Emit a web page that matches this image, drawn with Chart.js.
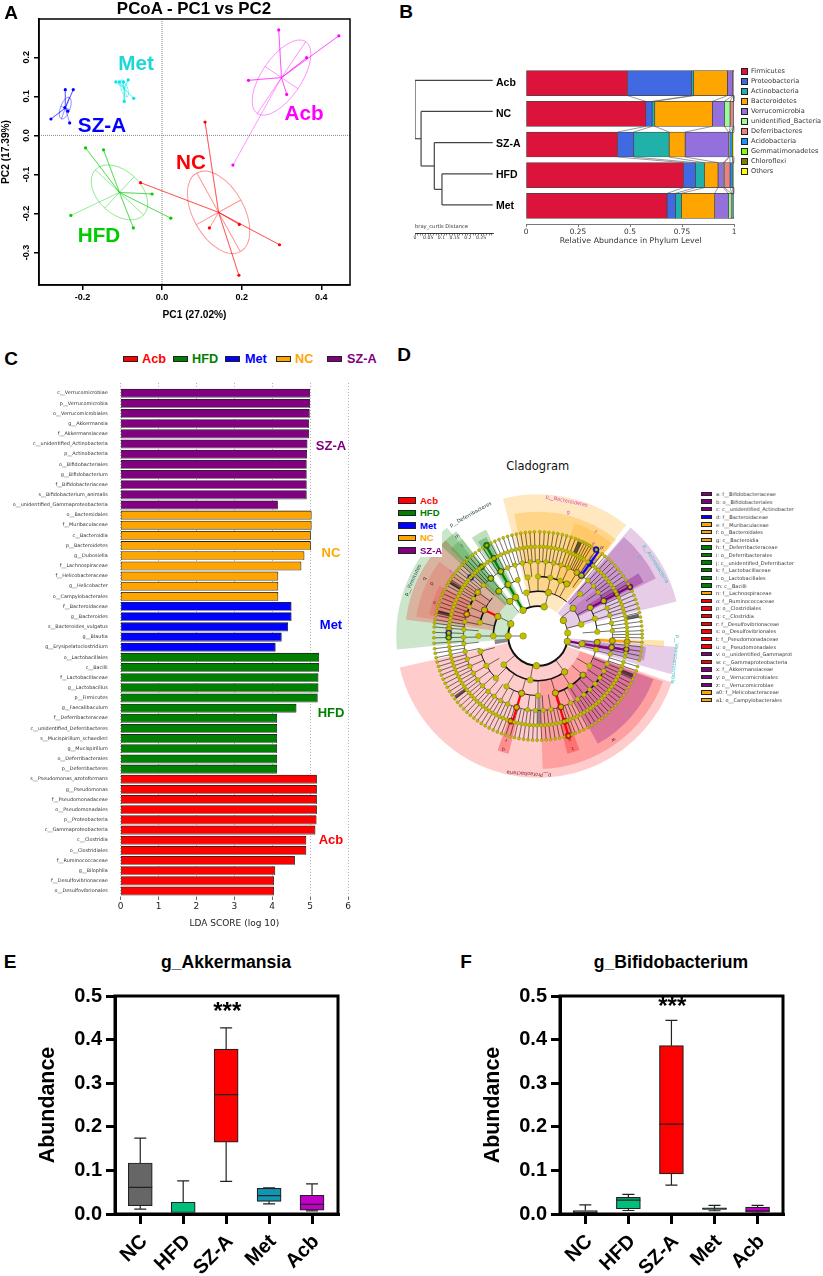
<!DOCTYPE html>
<html lang="en">
<head>
<meta charset="UTF-8">
<title>Gut microbiota figure</title>
<script src="https://cdn.jsdelivr.net/npm/chart.js"></script>
<style>
    html, body { margin: 0; padding: 0; background: #fff; }
    #page { position: relative; width: 823px; height: 1276px; overflow: hidden; }
    canvas { position: absolute; }
    .tag { position: absolute; white-space: nowrap; transform: translate(-50%, -50%); font-family: "Liberation Sans", Arial, sans-serif; line-height: 1; z-index: 5; }
    .left { transform: translate(0, -50%); }
    .swatch { position: absolute; border: 1px solid #222; box-sizing: border-box; z-index: 6; }
    .dv { font-family: "DejaVu Sans", sans-serif; }
</style>
</head>
<body>
<div id="page"></div>
<script>
    // Panel A: PCoA points
    const acbPts = [[.293,.27],[.444,.255],[.363,.199],[.217,.141],[.313,.105],[.178,-.076]];
    const metPts = [[-.116,.137],[-.107,.137],[-.097,.137],[-.085,.142],[-.071,.095],[-.095,.087]];
    const szaPts = [[-.243,.117],[-.223,.117],[-.279,.042],[-.244,.071],[-.237,.062],[-.232,.032]];
    const hfdPts = [[-.192,-.032],[-.147,-.037],[-.025,-.15],[.022,-.212],[-.072,-.237],[-.229,-.205]];
    const ncPts = [[.108,.034],[-.054,-.121],[.194,-.228],[.295,-.28],[.193,-.358],[.119,-.237]];
    // centre x, centre y, semi axes (x units), tilt in degrees
    const acbEllipse = [.30,.148,.109,.05,-56];
    const metEllipse = [-.095,.12,.0226,.0084,70];
    const szaEllipse = [-.243,.07,.029,.012,-70];
    const hfdEllipse = [-.107,-.146,.083,.054,43];
    const ncEllipse = [.142,-.197,.113,.064,61];
    const pcoaTicksX = [-.2,0,.2,.4];
    const pcoaTicksY = [-.3,-.2,-.1,0,.1,.2];

    // Panel B: phylum abundance
    const treeGroups = ['Acb','NC','SZ-A','HFD','Met'];
    const firmicutes = [.488,.576,.44,.757,.678];
    const proteobacteria = [.307,.03,.078,.057,.04];
    const actinobacteria = [.011,.013,.17,.044,.029];
    const bacteroidetes = [.162,.277,.077,.065,.16];
    const verrucomicrobia = [.026,.058,.209,.026,.066];
    const unidentifiedBact = [.002,.027,.004,.005,.014];
    const deferribacteres = [.002,.016,.002,.027,.002];
    const acidobacteria = [.001,.001,.012,.014,.007];
    const gemmatimonadetes = [0,0,0,0,0];
    const chloroflexi = [0,0,.002,.002,.002];
    const others = [.001,.002,.006,.003,.002];
    const phylumNames = ['Firmicutes','Proteobacteria','Actinobacteria','Bacteroidetes','Verrucomicrobia','unidentified_Bacteria','Deferribacteres','Acidobacteria','Gemmatimonadetes','Chloroflexi','Others'];
    const phylumColors = ['#DC143C','#4169E1','#20B2AA','#FFA500','#9370DB','#98FB98','#F08080','#1E90FF','#7FFF00','#808000','#FFFF00'];
    const phylumValues = [firmicutes,proteobacteria,actinobacteria,bacteroidetes,verrucomicrobia,unidentifiedBact,deferribacteres,acidobacteria,gemmatimonadetes,chloroflexi,others];
    // dendrogram branches: distance, row, distance, row
    const treeBranches = [
        [.294,0,0,0],[0,0,0,1.875],[0,1.875,.023,1.875],
        [.294,1,.023,1],[.023,1,.023,2.75],[.023,2.75,.073,2.75],
        [.294,2,.073,2],[.073,2,.073,3.5],[.073,3.5,.102,3.5],
        [.294,3,.102,3],[.102,3,.102,4],[.102,4,.294,4]
    ];
    const distTicks = [0,.01,.02,.03,.04,.05,.06,.07,.08,.09,.1,.11,.12,.13,.14,.15,.16,.17,.18,.19,.2,.21,.22,.23,.24,.25,.26,.27,.28,.29];
    const distLabels = [0,.05,.1,.15,.2,.25];

    // Panel C: LDA scores
    const ldaNames = ['c__Verrucomicrobiae','p__Verrucomicrobia','o__Verrucomicrobiales','g__Akkermansia','f__Akkermansiaceae','c__unidentified_Actinobacteria','p__Actinobacteria','o__Bifidobacteriales','g__Bifidobacterium','f__Bifidobacteriaceae','s__Bifidobacterium_animalis','o__unidentified_Gammaproteobacteria',
        'o__Bacteroidales','f__Muribaculaceae','c__Bacteroidia','p__Bacteroidetes','g__Dubosiella','f__Lachnospiraceae','f__Helicobacteraceae','g__Helicobacter','o__Campylobacterales',
        'f__Bacteroidaceae','g__Bacteroides','s__Bacteroides_vulgatus','g__Blautia','g__Erysipelatoclostridium',
        'o__Lactobacillales','c__Bacilli','f__Lactobacillaceae','g__Lactobacillus','p__Firmicutes','g__Faecalibaculum','f__Deferribacteraceae','c__unidentified_Deferribacteres','s__Mucispirillum_schaedleri','g__Mucispirillum','o__Deferribacterales','p__Deferribacteres',
        's__Pseudomonas_azotoformans','g__Pseudomonas','f__Pseudomonadaceae','o__Pseudomonadales','p__Proteobacteria','c__Gammaproteobacteria','c__Clostridia','o__Clostridiales','f__Ruminococcaceae','g__Bilophila','f__Desulfovibrionaceae','o__Desulfovibrionales'];
    const ldaScores = [4.99,4.99,4.98,4.96,4.96,4.92,4.91,4.90,4.90,4.90,4.90,4.14,
        5.03,5.03,5.01,5.01,4.84,4.76,4.15,4.15,4.15,
        4.50,4.50,4.41,4.24,4.08,
        5.23,5.23,5.21,5.21,5.19,4.63,4.12,4.12,4.12,4.12,4.12,4.12,
        5.17,5.17,5.17,5.17,5.16,5.13,4.89,4.89,4.59,4.07,4.04,4.04];
    const ldaGroupSizes = [['#800080',12],['#FFA500',9],['#0000FF',5],['#008000',12],['#FF0000',12]];
    const ldaTicks = [0,1,2,3,4,5,6];

    // Panel D: cladogram, angles in degrees clockwise from the top
    const RED = '#FF0000', GREEN = '#008000', BLUE = '#0000FF', ORANGE = '#FFA500', PURPLE = '#800080';
    const ringRadius = [15.3,30.7,46,61.3,76.7,92,107.3];
    const tipAngles = [1,3.5,6,8.5,11,13.5,16,18.5,21,23,25,26.5,28,29.5,31,34,38,40,42.5,45,47.5,50,52.5,55,57.5,60,62,64.5,67,69.5,72,74.5,77,79.5,82,84.5,87,89,91,93.5,96,98.5,101,103.5,107,109.5,112,114.5,117,119.5,122,124.5,127,129.5,132,134.5,137,139.5,142,144,146.5,149,151.5,154,156.5,159,161,163,165.5,168,170.5,173,175.5,178,180.5,183,185.5,188,190.5,193,195.5,198,200.5,203,205.5,208,210.5,213,215.5,218,220.5,223,225.5,228,230.5,233,235.5,238,240.5,243,245.5,248,250.5,253,255.5,258,260.5,263,266,269,272,275,277,279,281.5,284,286.5,289,291.5,294,296.5,299,301,303,305,307,309,311,313,315,317,319,321,323,325.5,328,330.5,333,335.5,338,340.5,343,345.5,348,350.5,353,355.5,358];
    const familyAngles = [342,348,354,0,6,12,18,24,31.5,35.6,42,48,54,61.9,68,74,80,86,93.7,98.8,104,112,118,124,130,136,142,148,154,162,170,176,182,188,196.7,204,210,216,222,228,234,240,246,252,258,264,269,275,281,287,293,300,306,313,320.7,330,336];
    const orderAngles = [350,0,12,22,29,45,61.5,73,86,96,103,120,131,147,163,180,196,212,225,240,255,270,283,296,319,330,340];
    const classAngles = [13.5,51.7,75,100,143.5,190,230,270,296,321,330,345];
    const phylumAngles = [12,58.4,84,100.7,183,270,294,330];
    const biomarkers = [
        [183,1,RED],[143.5,2,RED],[163,3,RED],[162.3,4,RED],[162.5,5,RED],[163.1,6,RED],[196,3,RED],[196.7,4,RED],[197.6,5,RED],[296,2,RED],[296,3,RED],[287,4,RED],
        [131,3,PURPLE],[58.4,1,PURPLE],[51.7,2,PURPLE],[61.5,3,PURPLE],[61.9,4,PURPLE],[61.6,5,PURPLE],[61.9,6,PURPLE],[100.7,1,PURPLE],[100,2,PURPLE],[96.2,3,PURPLE],[98.8,4,PURPLE],[98.7,5,PURPLE],
        [294,1,GREEN],[330,1,GREEN],[330,2,GREEN],[329.5,3,GREEN],[330,4,GREEN],[330.4,5,GREEN],[330.5,6,GREEN],[321,2,GREEN],[318.8,3,GREEN],[320.7,4,GREEN],[320.8,5,GREEN],[269.2,5,GREEN],
        [306,4,ORANGE],[274.4,5,ORANGE],[12,1,ORANGE],[13.5,2,ORANGE],[29,3,ORANGE],[31.5,4,ORANGE],[93.7,4,ORANGE],[93.7,5,ORANGE],
        [311,5,BLUE],[271.9,5,BLUE],[35.6,4,BLUE],[35.7,5,BLUE],[33.9,6,BLUE]
    ];
    // thick coloured stems: angle, inner ring, outer ring, colour
    const cladeStems = [[163,3,6,RED],[196.5,3,5,RED],[296,2,3,RED],[61.7,3,6,PURPLE],[99,4,5,PURPLE],[100,1,4,PURPLE],[330,1,6,GREEN],[35.6,4,6,BLUE],[93.7,3,5,ORANGE]];
    // black arcs: ring, from, to, width
    const cladeArcs = [[1,100,300,2],[1,330,372,1.6],[1,58,100,.8],[2,143,230,1.6],[2,270,296,1.6],[2,321,330,1],[2,345,373.5,1.4],[2,13.5,40,1],[2,51,75,.8],
        [3,131,163,1.6],[3,180,212,1],[3,225,255,1],[3,283,296,1.6],[3,296,310,1],[3,360,389,1.4],[3,61,86,1],[3,319,340,.8],[3,96,120,.8],
        [4,121,143,1.6],[4,287,306,1.6],[4,0,360,.6]];
    // shaded clades: from, to, inner radius, outer radius, colour
    const cladeWedges = [
        [109.2,257.2,31,146,'rgba(255,0,0,.2)'],[110,178,46,137,'rgba(255,0,0,.22)'],[110.5,151,62,127,'rgba(128,0,128,.28)'],
        [194,199.5,92,125,'rgba(255,0,0,.3)'],[160,166,92,125,'rgba(255,0,0,.3)'],
        [264.5,320,31,146,'rgba(0,128,0,.2)'],[277,316,46,137,'rgba(255,0,0,.22)'],[279,307,62,127,'rgba(255,0,0,.15)'],[281,297,77,114,'rgba(255,0,0,.15)'],[313,322,46,137,'rgba(0,128,0,.25)'],[315,322,62,127,'rgba(0,128,0,.2)'],
        [326,334,31,122,'rgba(0,128,0,.25)'],[327.5,332.5,46,115,'rgba(0,128,0,.3)'],
        [-14.3,38.5,31,146,'rgba(255,165,0,.25)'],[-11,39,46,128,'rgba(255,165,0,.28)'],[18,38.5,62,122,'rgba(255,165,0,.25)'],[26,38,77,107,'rgba(255,165,0,.25)'],[33,38,77,100,'rgba(0,0,255,.2)'],
        [40.5,76,31,147,'rgba(128,0,128,.2)'],[41,64,46,135,'rgba(128,0,128,.25)'],[58,63,62,122,'rgba(128,0,128,.35)'],[51,64,46,92,'rgba(128,0,128,.15)'],
        [94.5,106,31,143,'rgba(128,0,128,.2)'],[96,103,46,112,'rgba(128,0,128,.25)'],[92,95,63,130,'rgba(255,165,0,.3)']
    ];
    // dense bundles of tips that merge into dark fans: from, to, inner radius, outer radius, colour
    const cladeFans = [
        [300.5,302.5,93,106,'rgba(20,20,20,.65)'],[282.5,284.5,93,106,'rgba(20,20,20,.65)'],[77.5,79.5,93,106,'rgba(20,20,20,.65)'],[112,114,93,106,'rgba(20,20,20,.65)'],[232.5,234.5,93,106,'rgba(20,20,20,.65)'],[23,25,93,106,'rgba(20,20,20,.65)'],
        [178,180.5,62,91,'rgba(90,90,90,.6)'],[259,265,32,45,'rgba(90,90,90,.7)'],[104.5,107.5,32,45,'rgba(90,90,90,.7)']
    ];
    const cladeLabels = [
        ['p__Bacteroidetes',12,142,12,'#E040C0'],['p__Actinobacteria',58.4,142,-32+90,'#30C0C0'],['p__Verrucomicrobia',99.7,143,96,'#30C0C0'],
        ['p__Proteobacteria',183.8,142,183.8,'#802030'],['p__Firmicutes',294,141,-66,'#244'],['p__Deferribacteres',331,143,-29,'#244'],
        ['g',13.8,131,14,'#E040C0'],['f',29,122,29,'#E040C0'],['e',31,111,31,'#E040C0'],['d',35.8,112,36,'#334'],['c',51.9,132,52,'#30C0C0'],['w',144,132,144,'#622'],['x',131,122,131,'#30C0C0'],
        ['q',197,122,197,'#622'],['r',197,112,197,'#622'],['t',163,121,163,'#622'],['u',163,112,163,'#622'],['n',306.5,112,-53,'#E040C0'],['o',287.8,112,-72,'#622'],['p',296.3,122,-64,'#622'],['q',296.8,131,-63,'#622'],
        ['m',321,132,-39,'#244'],['l',320,121,-40,'#244'],['k',318,109,-42,'#244']
    ];
    const cladeLegend = [
        ['a: f__Bifidobacteriaceae',PURPLE],['b: o__Bifidobacteriales',PURPLE],['c: c__unidentified_Actinobacter',PURPLE],['d: f__Bacteroidaceae',BLUE],['e: f__Muribaculaceae',ORANGE],['f: o__Bacteroidales',ORANGE],['g: c__Bacteroidia',ORANGE],
        ['h: f__Deferribacteraceae',GREEN],['i: o__Deferribacterales',GREEN],['j: c__unidentified_Deferribacter',GREEN],['k: f__Lactobacillaceae',GREEN],['l: o__Lactobacillales',GREEN],['m: c__Bacilli',GREEN],['n: f__Lachnospiraceae',ORANGE],
        ['o: f__Ruminococcaceae',RED],['p: o__Clostridiales',RED],['q: c__Clostridia',RED],['r: f__Desulfovibrionaceae',RED],['s: o__Desulfovibrionales',RED],['t: f__Pseudomonadaceae',RED],['u: o__Pseudomonadales',RED],
        ['v: o__unidentified_Gammaprot',PURPLE],['w: c__Gammaproteobacteria',RED],['x: f__Akkermansiaceae',PURPLE],['y: o__Verrucomicrobiales',PURPLE],['z: c__Verrucomicrobiae',PURPLE],['a0: f__Helicobacteraceae',ORANGE],['a1: o__Campylobacterales',ORANGE]
    ];

    // Panels E and F: box plots
    const boxGroups = ['NC','HFD','SZ-A','Met','Acb'];
    const boxColors = ['#666666','#00BF7A','#FF0000','#0E97B4','#C000C8'];
    const abundanceTicks = [0,.1,.2,.3,.4,.5];
    const akkLow = [.011,0,.075,.023,.007];
    const akkQ1 = [.019,0,.165,.029,.009];
    const akkMedian = [.061,0,.274,.042,.022];
    const akkQ3 = [.117,.027,.378,.059,.043];
    const akkHigh = [.174,.076,.427,.06,.069];
    const bifLow = [0,.008,.066,.0075,.0015];
    const bifQ1 = [0,.012,.092,.0105,.004];
    const bifMedian = [.004,.032,.206,.012,.0075];
    const bifQ3 = [.008,.038,.386,.014,.016];
    const bifHigh = [.021,.045,.444,.02,.02];

    const page = document.getElementById('page');
    const SANS = '"Liberation Sans", Arial, sans-serif';
    const DEJAVU = '"DejaVu Sans", sans-serif';
    Chart.defaults.font.family = SANS;
    Chart.defaults.animation = false;
    Chart.defaults.responsive = false;
    Chart.defaults.plugins.legend.display = false;
    Chart.defaults.plugins.tooltip.enabled = false;

    function tag(text, x, y, size, color, weight, extra) {
        const d = document.createElement('div');
        d.className = 'tag ' + (extra || '');
        d.textContent = text;
        d.style.left = x + 'px';
        d.style.top = y + 'px';
        d.style.fontSize = size + 'px';
        d.style.color = color || '#000';
        d.style.fontWeight = weight || 'bold';
        page.appendChild(d);
        return d;
    }

    function swatch(x, y, w, h, color) {
        const d = document.createElement('div');
        d.className = 'swatch';
        d.style.cssText = 'left:' + x + 'px;top:' + (y - h / 2) + 'px;width:' + w + 'px;height:' + h + 'px;background:' + color;
        page.appendChild(d);
    }

    // canvas sized so that the plot area lands exactly on l,t,r,b of the page
    function frame(l, t, r, b, padL, padB, padT, padR, noAxisY) {
        const c = document.createElement('canvas');
        c.width = Math.round(r - l + padL + padR);
        c.height = Math.round(b - t + padT + padB);
        c.style.left = (l - padL) + 'px';
        c.style.top = (t - padT) + 'px';
        page.appendChild(c);
        return {
            ctx: c.getContext('2d'),
            padding: { left: noAxisY ? padL : 0, top: padT, right: padR, bottom: 0 },
            fitX: s => { s.height = padB; },
            fitY: s => { s.width = padL; }
        };
    }

    function forced(list) {
        return s => { s.ticks = list.map(v => ({ value: v })); };
    }

    // ---- A: PCoA
    const pcoaGroups = [
        [acbPts, acbEllipse, '#FF00FF'], [metPts, metEllipse, '#00E5E5'], [szaPts, szaEllipse, '#0000FF'],
        [hfdPts, hfdEllipse, '#00CC00'], [ncPts, ncEllipse, '#FF0000']
    ];
    const pcoaSets = [];
    pcoaGroups.forEach(g => {
        const centre = { x: g[1][0], y: g[1][1] };
        const spider = [];
        g[0].forEach(p => { spider.push(centre, { x: p[0], y: p[1] }); });
        pcoaSets.push({ data: spider, showLine: true, pointRadius: 0, borderColor: g[2] + '75', borderWidth: .9 });
        pcoaSets.push({ data: g[0].map(p => ({ x: p[0], y: p[1] })), pointRadius: 1.6, backgroundColor: g[2], borderWidth: 0 });
    });
    const fa = frame(39, 19, 350, 285, 39, 36, 6, 12);
    new Chart(fa.ctx, {
        type: 'scatter',
        data: { datasets: pcoaSets },
        options: {
            layout: { padding: fa.padding },
            scales: {
                x: {
                    min: -.309, max: .472, afterBuildTicks: forced(pcoaTicksX), afterFit: fa.fitX,
                    grid: { drawOnChartArea: false, tickLength: 5, color: '#000', lineWidth: 1.5 }, border: { color: '#000', width: 1.5 },
                    ticks: { color: '#000', padding: 2, font: { size: 9, weight: 'bold' }, callback: v => v.toFixed(1) },
                    title: { display: true, text: 'PC1 (27.02%)', color: '#000', padding: 0, font: { size: 10.2, weight: 'bold' } }
                },
                y: {
                    min: -.383, max: .298, afterBuildTicks: forced(pcoaTicksY), afterFit: fa.fitY,
                    grid: { drawOnChartArea: false, tickLength: 5, color: '#000', lineWidth: 1.5 }, border: { color: '#000', width: 1.5 },
                    ticks: { display: false },
                    title: { display: true, text: 'PC2 (17.39%)', color: '#000', padding: 0, font: { size: 10.2, weight: 'bold' } }
                }
            }
        },
        plugins: [{
            id: 'pcoaExtras',
            beforeDatasetsDraw(chart) {
                const c = chart.ctx, a = chart.chartArea, x = chart.scales.x, y = chart.scales.y;
                c.save();
                c.strokeStyle = '#888';
                c.lineWidth = 1;
                c.setLineDash([1, 1]);
                c.beginPath();
                c.moveTo(x.getPixelForValue(0), a.top); c.lineTo(x.getPixelForValue(0), a.bottom);
                c.moveTo(a.left, y.getPixelForValue(0)); c.lineTo(a.right, y.getPixelForValue(0));
                c.stroke();
                c.setLineDash([]);
                pcoaGroups.forEach(g => {
                    const e = g[1];
                    const px = x.getPixelForValue(e[0]), py = y.getPixelForValue(e[1]);
                    const ra = x.getPixelForValue(e[0] + e[2]) - px, rb = x.getPixelForValue(e[0] + e[3]) - px;
                    c.save();
                    c.translate(px, py);
                    c.rotate(e[4] * Math.PI / 180);
                    c.strokeStyle = g[2] + '70';
                    c.lineWidth = .9;
                    c.beginPath();
                    c.ellipse(0, 0, ra, rb, 0, 0, Math.PI * 2);
                    c.moveTo(-ra, 0); c.lineTo(ra, 0);
                    c.moveTo(0, -rb); c.lineTo(0, rb);
                    c.stroke();
                    c.restore();
                });
                c.restore();
            },
            afterDraw(chart) {
                const c = chart.ctx, a = chart.chartArea, y = chart.scales.y;
                c.save();
                c.strokeStyle = '#000';
                c.lineWidth = 1.5;
                c.strokeRect(a.left, a.top, a.right - a.left, a.bottom - a.top);
                // R style upright tick labels on the y axis, centred on the tick
                c.fillStyle = '#000';
                c.font = 'bold 9px ' + SANS;
                c.textAlign = 'center';
                c.textBaseline = 'middle';
                pcoaTicksY.forEach(v => {
                    c.save();
                    c.translate(a.left - 12.3, y.getPixelForValue(v));
                    c.rotate(-Math.PI / 2);
                    c.fillText(v.toFixed(1), 0, 0);
                    c.restore();
                });
                c.restore();
            }
        }]
    });
    tag('PCoA - PC1 vs PC2', 194, 9, 16.9);
    tag('Met', 136, 63, 20.7, '#1FD6D6');
    tag('Acb', 304, 113, 20.7, '#FF00FF');
    tag('SZ-A', 102, 125, 20.7, '#0000FF');
    tag('NC', 191, 162, 20.7, '#FF0000');
    tag('HFD', 99, 235, 20.7, '#00CC00');

    // ---- B: dendrogram
    const fd = frame(415.3, 70, 493.5, 233.3, 6, 12, 8, 8, true);
    new Chart(fd.ctx, {
        type: 'scatter',
        data: {
            datasets: treeBranches.map(b => ({
                data: [{ x: b[0], y: b[1] }, { x: b[2], y: b[3] }],
                showLine: true, pointRadius: 0, borderColor: '#444', borderWidth: 1.2
            }))
        },
        options: {
            layout: { padding: fd.padding },
            scales: {
                x: {
                    min: 0, max: .295, afterBuildTicks: forced(distTicks), afterFit: fd.fitX,
                    grid: { drawOnChartArea: false, tickLength: 2.5, color: '#333', lineWidth: .6 }, border: { color: '#333', width: 1 },
                    ticks: { autoSkip: false, maxRotation: 0, color: '#333', padding: 0, font: { family: DEJAVU, size: 4.6 },
                        callback: v => distLabels.includes(v) ? String(v) : '' }
                },
                y: { display: false, reverse: true, min: -.33, max: 4.9 }
            }
        }
    });
    tag('bray_curtis Distance', 415, 226.7, 5.2, '#333', 'normal', 'left dv');

    // ---- B: stacked bars
    const fb = frame(526, 64, 734.3, 223.7, 30, 26, 6, 12);
    new Chart(fb.ctx, {
        type: 'bar',
        data: {
            labels: treeGroups.map((g, i) => i),
            datasets: phylumNames.map((n, i) => ({
                label: n, data: phylumValues[i], backgroundColor: phylumColors[i],
                borderColor: '#444', borderWidth: .7, borderSkipped: false, barThickness: 25
            }))
        },
        options: {
            indexAxis: 'y',
            layout: { padding: fb.padding },
            scales: {
                x: {
                    stacked: true, min: 0, max: 1, afterBuildTicks: forced([0,.25,.5,.75,1]), afterFit: fb.fitX,
                    grid: { drawOnChartArea: false, tickLength: 3, color: '#777' }, border: { color: '#777' },
                    ticks: { color: '#333', padding: 1, maxRotation: 0, font: { family: DEJAVU, size: 7.4 }, callback: v => String(v) }
                },
                y: {
                    type: 'linear', offset: false, stacked: true, reverse: true, min: -.518, max: 4.592, afterBuildTicks: forced([0,1,2,3,4]), afterFit: fb.fitY,
                    grid: { display: false, offset: false }, border: { display: false },
                    ticks: { crossAlign: 'far', color: '#000', font: { size: 10.5, weight: 'bold' }, callback: v => treeGroups[v] }
                }
            }
        },
        plugins: [{
            id: 'connectors',
            afterDatasetsDraw(chart) {
                const c = chart.ctx, x = chart.scales.x, y = chart.scales.y;
                c.save();
                c.strokeStyle = '#555';
                c.lineWidth = .6;
                c.beginPath();
                for (let i = 0; i < treeGroups.length - 1; i++) {
                    let sumA = 0, sumB = 0;
                    phylumValues.forEach(v => {
                        sumA += v[i];
                        sumB += v[i + 1];
                        c.moveTo(x.getPixelForValue(sumA), y.getPixelForValue(i) + 12.5);
                        c.lineTo(x.getPixelForValue(sumB), y.getPixelForValue(i + 1) - 12.5);
                    });
                }
                c.stroke();
                c.restore();
            }
        }]
    });
    phylumNames.forEach((n, i) => {
        swatch(741, 71 + 10 * i, 7, 7, phylumColors[i]);
        tag(n, 751, 71 + 10 * i, 6.6, '#333', 'normal', 'left dv');
    });
    tag('Relative Abundance in Phylum Level', 630.7, 241, 7.8, '#333', 'normal', 'dv');

    // ---- C: LDA bars
    const ldaColors = [];
    ldaGroupSizes.forEach(g => { for (let i = 0; i < g[1]; i++) ldaColors.push(g[0]); });
    const fc = frame(120.7, 378, 347.7, 896.7, 120.7, 32, 3, 10);
    new Chart(fc.ctx, {
        type: 'bar',
        data: {
            labels: ldaNames.map((n, i) => i),
            datasets: [{ data: ldaScores, backgroundColor: ldaColors, borderColor: '#222', borderWidth: .8, borderSkipped: false, barThickness: 8.2 }]
        },
        options: {
            indexAxis: 'y',
            layout: { padding: fc.padding },
            scales: {
                x: {
                    min: 0, max: 6, afterBuildTicks: forced(ldaTicks), afterFit: fc.fitX,
                    grid: { color: '#999', lineWidth: .8, tickLength: 3, tickColor: '#444' }, border: { display: false, dash: [1, 2] },
                    ticks: { color: '#222', padding: 1, maxRotation: 0, font: { family: DEJAVU, size: 9 } },
                    title: { display: true, text: 'LDA SCORE (log 10)', color: '#222', padding: 0, font: { family: DEJAVU, size: 9 } }
                },
                y: {
                    type: 'linear', offset: false, reverse: true, min: -1.005, max: 49.6, afterBuildTicks: forced(ldaNames.map((n, i) => i)), afterFit: fc.fitY,
                    grid: { display: false, offset: false }, border: { display: false },
                    ticks: { autoSkip: false, color: '#333', padding: 5, font: { family: DEJAVU, size: 4.9 }, callback: v => ldaNames[v] }
                }
            }
        },
        plugins: [{
            id: 'barShade',
            beforeDatasetDraw(chart) {
                const c = chart.ctx;
                c.save();
                c.shadowColor = '#999';
                c.shadowOffsetY = 1.2;
                c.shadowBlur = 0;
            },
            afterDatasetDraw(chart) { chart.ctx.restore(); }
        }]
    });
    [['Acb', RED, 123, 142], ['HFD', GREEN, 173, 192], ['Met', BLUE, 225, 245], ['NC', ORANGE, 276, 295], ['SZ-A', PURPLE, 327, 347]].forEach(l => {
        swatch(l[2], 359, 15, 6.5, l[1]);
        tag(l[0], l[3], 359, 12.7, l[1], 'bold', 'left');
    });
    tag('SZ-A', 331, 445, 13, PURPLE);
    tag('NC', 331, 552, 13, ORANGE);
    tag('Met', 331, 624, 13, BLUE);
    tag('HFD', 331, 711.7, 13, GREEN);
    tag('Acb', 331, 839, 13, RED);

    // ---- D: cladogram
    function polar(angle, r) {
        const t = angle * Math.PI / 180;
        return { x: r * Math.sin(t), y: r * Math.cos(t) };
    }
    const nodeSets = [
        [tipAngles, 6, 1.5], [tipAngles, 5, 1.9], [familyAngles, 4, 2.3], [orderAngles, 3, 2.7], [classAngles, 2, 3], [phylumAngles, 1, 3.2], [[270], 0, 3.3]
    ].map(s => ({
        data: s[0].map(a => polar(a, ringRadius[s[1]])), pointRadius: s[2],
        backgroundColor: '#BFBF00', borderColor: '#777700', borderWidth: .4
    }));
    [RED, GREEN, BLUE, ORANGE, PURPLE].forEach(col => {
        nodeSets.push({
            data: biomarkers.filter(m => m[2] === col).map(m => polar(m[0], ringRadius[m[1]])),
            pointRadius: 3.1, backgroundColor: col, borderColor: '#333', borderWidth: .5
        });
    });
    const fcl = frame(382.7, 481, 692.7, 791, 0, 0, 0, 0, true);
    new Chart(fcl.ctx, {
        type: 'scatter',
        data: { datasets: nodeSets },
        options: {
            scales: { x: { display: false, min: -155, max: 155 }, y: { display: false, min: -155, max: 155 } }
        },
        plugins: [{
            id: 'cladeDrawing',
            beforeDatasetsDraw(chart) {
                const c = chart.ctx, x = chart.scales.x, y = chart.scales.y;
                const cx = x.getPixelForValue(0), cy = y.getPixelForValue(0);
                const rad = r => x.getPixelForValue(r) - cx;
                const toCanvas = a => (a - 90) * Math.PI / 180;
                const spoke = (a, r0, r1) => {
                    const p = polar(a, r0), q = polar(a, r1);
                    c.moveTo(x.getPixelForValue(p.x), y.getPixelForValue(p.y));
                    c.lineTo(x.getPixelForValue(q.x), y.getPixelForValue(q.y));
                };
                const wedge = w => {
                    c.fillStyle = w[4];
                    c.beginPath();
                    c.arc(cx, cy, rad(w[3]), toCanvas(w[0]), toCanvas(w[1]));
                    c.arc(cx, cy, rad(w[2]), toCanvas(w[1]), toCanvas(w[0]), true);
                    c.closePath();
                    c.fill();
                };
                c.save();
                cladeWedges.forEach(wedge);
                c.strokeStyle = '#111';
                c.lineWidth = .6;
                c.beginPath();
                tipAngles.forEach(a => spoke(a, ringRadius[4], ringRadius[6]));
                familyAngles.forEach(a => spoke(a, ringRadius[3], ringRadius[4]));
                orderAngles.forEach(a => spoke(a, ringRadius[2], ringRadius[3]));
                classAngles.forEach(a => spoke(a, ringRadius[1], ringRadius[2]));
                spoke(270, ringRadius[0], ringRadius[1]);
                c.stroke();
                cladeFans.forEach(wedge);
                cladeArcs.forEach(k => {
                    c.lineWidth = k[3];
                    c.beginPath();
                    c.arc(cx, cy, rad(ringRadius[k[0]]), toCanvas(k[1]), toCanvas(k[2]));
                    c.stroke();
                });
                cladeStems.forEach(s => {
                    c.strokeStyle = s[3];
                    c.lineWidth = 2.2;
                    c.beginPath();
                    spoke(s[0], ringRadius[s[1]], ringRadius[s[2]]);
                    c.stroke();
                });
                c.restore();
            },
            afterDraw(chart) {
                const c = chart.ctx, x = chart.scales.x, y = chart.scales.y;
                c.save();
                c.font = '5px ' + DEJAVU;
                c.textAlign = 'center';
                c.textBaseline = 'middle';
                cladeLabels.forEach(l => {
                    const p = polar(l[1], l[2]);
                    c.save();
                    c.translate(x.getPixelForValue(p.x), y.getPixelForValue(p.y));
                    c.rotate(l[3] * Math.PI / 180);
                    c.fillStyle = l[4];
                    c.fillText(l[0], 0, 0);
                    c.restore();
                });
                c.restore();
            }
        }]
    });
    tag('Cladogram', 537.7, 466.7, 11.5, '#111', 'normal', 'dv');
    const cornerBox = document.createElement('div');
    cornerBox.style.cssText = 'position:absolute;left:396px;top:495px;width:46px;height:62px;background:#fff;z-index:4';
    page.appendChild(cornerBox);
    [['Acb', RED], ['HFD', GREEN], ['Met', BLUE], ['NC', ORANGE], ['SZ-A', PURPLE]].forEach((l, i) => {
        swatch(398, 500.7 + 12.5 * i, 18, 6.5, l[1]);
        tag(l[0], 420, 500.7 + 12.5 * i, 9.5, l[1], 'bold', 'left');
    });
    cladeLegend.forEach((l, i) => {
        swatch(701, 494 + 7.63 * i, 11.3, 4.4, l[1]);
        tag(l[0], 716, 494 + 7.63 * i, 5, '#333', 'normal', 'left dv');
    });

    // ---- E and F: box plots
    function boxPlot(l, r, q1, med, q3, low, high) {
        const fx = frame(l, 991.7, r, 1213.3, 80, 62, 12, 6);
        const xMax = (r - (l + 25.3)) / 43;
        new Chart(fx.ctx, {
            type: 'bar',
            data: {
                labels: boxGroups.map((g, i) => i),
                datasets: [{
                    data: q1.map((v, i) => [v, q3[i]]), backgroundColor: boxColors,
                    borderColor: '#222', borderWidth: 1.2, borderSkipped: false, barThickness: 24
                }]
            },
            options: {
                layout: { padding: fx.padding },
                scales: {
                    x: {
                        type: 'linear', offset: false, min: -.588, max: xMax, afterBuildTicks: forced([0,1,2,3,4]), afterFit: fx.fitX,
                        grid: { offset: false, drawOnChartArea: false, tickLength: 10, color: '#000', lineWidth: 3 }, border: { color: '#000', width: 3 },
                        ticks: { color: '#000', padding: 6, labelOffset: 4, minRotation: 45, maxRotation: 45, font: { size: 20, weight: 'bold' }, callback: v => boxGroups[v] }
                    },
                    y: {
                        min: 0, max: .5, afterBuildTicks: forced(abundanceTicks), afterFit: fx.fitY,
                        grid: { drawOnChartArea: false, tickLength: 9, color: '#000', lineWidth: 3 }, border: { color: '#000', width: 3 },
                        ticks: { color: '#000', padding: 4, font: { size: 20, weight: 'bold' }, callback: v => v.toFixed(1) },
                        title: { display: true, text: 'Abundance', color: '#000', padding: 0, font: { size: 21.4, weight: 'bold' } }
                    }
                }
            },
            plugins: [{
                id: 'whiskers',
                afterDatasetsDraw(chart) {
                    const c = chart.ctx, x = chart.scales.x, y = chart.scales.y;
                    c.save();
                    c.strokeStyle = '#222';
                    c.lineWidth = 1.2;
                    c.beginPath();
                    boxGroups.forEach((g, i) => {
                        const px = x.getPixelForValue(i);
                        [[q3[i], high[i]], [q1[i], low[i]]].forEach(w => {
                            c.moveTo(px, y.getPixelForValue(w[0]));
                            c.lineTo(px, y.getPixelForValue(w[1]));
                            c.moveTo(px - 6, y.getPixelForValue(w[1]));
                            c.lineTo(px + 6, y.getPixelForValue(w[1]));
                        });
                        c.moveTo(px - 12, y.getPixelForValue(med[i]));
                        c.lineTo(px + 12, y.getPixelForValue(med[i]));
                    });
                    c.stroke();
                    c.restore();
                },
                afterDraw(chart) {
                    const c = chart.ctx, a = chart.chartArea;
                    c.save();
                    c.strokeStyle = '#000';
                    c.lineWidth = 3;
                    c.strokeRect(a.left, a.top, a.right - a.left, a.bottom - a.top);
                    c.restore();
                }
            }]
        });
    }
    boxPlot(115, 338.3, akkQ1, akkMedian, akkQ3, akkLow, akkHigh);
    boxPlot(560, 782.7, bifQ1, bifMedian, bifQ3, bifLow, bifHigh);
    tag('g_Akkermansia', 226, 962.7, 17.6);
    tag('g_Bifidobacterium', 671, 962.7, 17.6);
    tag('***', 227.3, 1011, 24);
    tag('***', 672.3, 1006, 24);

    // panel letters
    tag('A', 11, 12, 19);
    tag('B', 406, 11, 19);
    tag('C', 11, 358, 19);
    tag('D', 404, 354, 19);
    tag('E', 10, 960.7, 19);
    tag('F', 466, 960.7, 19);
</script>
</body>
</html>
